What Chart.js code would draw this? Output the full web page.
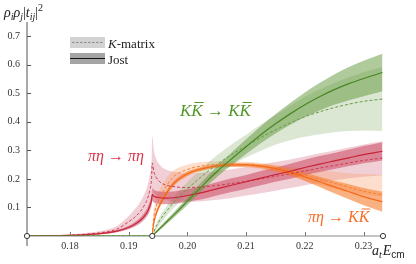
<!DOCTYPE html>
<html>
<head>
<meta charset="utf-8">
<script src="https://cdn.jsdelivr.net/npm/chart.js@4.4.1/dist/chart.umd.min.js"></script>
<style>
  html, body { margin: 0; padding: 0; background: #fff; }
  canvas { display: block; }
</style>
</head>
<body>
<canvas id="tChart" width="416" height="264"></canvas>
<script>
// axis ranges / ticks
const xMin = 0.1727, xMax = 0.2333, threshold = 0.19402;
const yMax = 0.75;
const xTicks = [0.18, 0.19, 0.20, 0.21, 0.22, 0.23];
const yTicks = [0.1, 0.2, 0.3, 0.4, 0.5, 0.6, 0.7];

// pi eta -> pi eta
const redX      = [0.1727, 0.176, 0.18, 0.183, 0.186, 0.188, 0.19, 0.191, 0.192, 0.1927, 0.1932, 0.1936, 0.1939, 0.19402, 0.1943, 0.1947, 0.1953, 0.196, 0.198, 0.2, 0.2025, 0.205, 0.2075, 0.21, 0.2125, 0.215, 0.2175, 0.22, 0.2225, 0.225, 0.2275, 0.23, 0.2332];
const redJost   = [0, .0005, .002, .005, .01, .017, .03, .04, .055, .07, .085, .105, .125, .145, .139, .136, .134, .133, .135, .142, .152, .165, .178, .19, .203, .215, .227, .24, .252, .263, .274, .285, .297];
const redJostHi = [0, .0007, .0028, .0065, .013, .021, .036, .048, .065, .082, .099, .122, .144, .167, .161, .158, .156, .155, .157, .164, .175, .188, .202, .214, .228, .24, .253, .267, .28, .291, .303, .315, .329];
const redJostLo = [0, .0003, .0012, .0035, .007, .013, .024, .032, .045, .058, .071, .088, .106, .123, .117, .114, .112, .111, .113, .12, .129, .142, .154, .166, .178, .19, .201, .213, .224, .235, .245, .255, .265];
const redK       = [0, .0008, .003, .007, .014, .024, .05, .065, .086, .108, .13, .16, .2, .256, .225, .205, .19, .181, .172, .17, .172, .177, .184, .192, .2, .209, .218, .228, .238, .247, .256, .265, .273];
const redKHi     = [0, .0015, .005, .011, .021, .035, .07, .093, .12, .148, .176, .212, .26, .35, .3, .27, .25, .237, .224, .22, .222, .227, .234, .242, .25, .259, .268, .279, .29, .3, .31, .321, .332];
const redKLo     = [0, .0003, .0015, .004, .008, .014, .03, .042, .058, .074, .09, .112, .14, .165, .15, .142, .134, .128, .12, .12, .122, .127, .133, .142, .15, .159, .168, .178, .187, .195, .202, .208, .213];

// pi eta -> K Kbar
const orangeX      = [0.19402, 0.1942, 0.1945, 0.195, 0.196, 0.1975, 0.2, 0.2025, 0.205, 0.2075, 0.21, 0.2125, 0.215, 0.2175, 0.22, 0.2225, 0.225, 0.2275, 0.23, 0.2332];
const orangeJost   = [0, .035, .065, .095, .135, .18, .218, .236, .245, .249, .249, .245, .236, .223, .207, .19, .172, .155, .138, .12];
const orangeJostHi = [0, .04, .072, .103, .144, .189, .226, .243, .251, .255, .255, .252, .245, .234, .221, .208, .194, .181, .168, .155];
const orangeJostLo = [0, .03, .058, .087, .126, .171, .21, .229, .239, .243, .243, .238, .227, .212, .193, .172, .15, .129, .108, .085];
const orangeK      = [0, .05, .09, .12, .16, .205, .233, .246, .251, .252, .25, .245, .237, .226, .213, .199, .185, .171, .157, .144];
const orangeKHi    = [0, .07, .115, .15, .19, .228, .25, .259, .262, .262, .26, .256, .25, .243, .236, .23, .225, .22, .217, .215];
const orangeKLo    = [0, .03, .06, .09, .13, .178, .213, .23, .239, .242, .24, .234, .224, .21, .195, .18, .167, .155, .146, .138];

// K Kbar -> K Kbar
const greenX      = [0.1727, 0.19402, 0.1945, 0.195, 0.196, 0.198, 0.2, 0.2025, 0.205, 0.2075, 0.21, 0.2125, 0.215, 0.2175, 0.22, 0.2225, 0.225, 0.2275, 0.23, 0.2332];
const greenJost   = [0, 0, .01, .02, .04, .08, .122, .175, .225, .27, .313, .355, .393, .428, .46, .488, .513, .534, .552, .573];
const greenJostHi = [0, 0, .013, .025, .047, .09, .135, .191, .244, .292, .339, .385, .427, .466, .503, .536, .566, .592, .614, .639];
const greenJostLo = [0, 0, .007, .015, .033, .07, .109, .159, .206, .248, .287, .325, .359, .39, .417, .44, .46, .476, .49, .507];
const greenK      = [0, 0, .025, .045, .075, .125, .165, .21, .25, .285, .315, .345, .372, .396, .418, .435, .45, .462, .472, .48];
const greenKHi    = [0, 0, .033, .057, .091, .145, .189, .238, .282, .321, .355, .391, .424, .456, .488, .513, .536, .556, .574, .592];
const greenKLo    = [0, 0, .017, .033, .059, .105, .141, .182, .218, .249, .275, .299, .32, .336, .348, .357, .364, .368, .37, .368];

const SERIF = '"Liberation Serif", "DejaVu Serif", serif';
const SANS = '"Liberation Sans", "DejaVu Sans", sans-serif';

function pts(xs, ys) {
  return xs.map((x, i) => ({ x: x, y: ys[i] }));
}

function lineSet(xs, ys, color, dashed) {
  return {
    data: pts(xs, ys),
    borderColor: color,
    borderWidth: dashed ? 1 : 1.2,
    borderDash: dashed ? [3, 2] : [],
    pointRadius: 0,
    fill: false,
    cubicInterpolationMode: 'monotone',
    order: 0
  };
}

// returns two datasets: upper edge filled down to the lower edge
function bandSet(xs, hi, lo, color, order) {
  return [
    { data: pts(xs, hi), borderWidth: 0, pointRadius: 0, fill: '+1', backgroundColor: color, cubicInterpolationMode: 'monotone', order: order },
    { data: pts(xs, lo), borderWidth: 0, pointRadius: 0, fill: false, cubicInterpolationMode: 'monotone', order: order }
  ];
}

const datasets = [
  lineSet(greenX, greenJost, 'rgb(72,135,35)', false),
  lineSet(greenX, greenK, 'rgb(100,155,70)', true),
  lineSet(redX, redJost, 'rgb(200,35,55)', false),
  lineSet(redX, redK, 'rgb(205,60,80)', true),
  lineSet(orangeX, orangeJost, 'rgb(245,105,25)', false),
  lineSet(orangeX, orangeK, 'rgb(245,125,55)', true),
  ...bandSet(greenX, greenJostHi, greenJostLo, 'rgba(95,150,55,0.5)', 1),
  ...bandSet(orangeX, orangeJostHi, orangeJostLo, 'rgba(245,125,45,0.6)', 1),
  ...bandSet(redX, redJostHi, redJostLo, 'rgba(200,60,85,0.5)', 1),
  ...bandSet(greenX, greenKHi, greenKLo, 'rgba(125,170,95,0.28)', 2),
  ...bandSet(orangeX, orangeKHi, orangeKLo, 'rgba(250,160,110,0.35)', 2),
  ...bandSet(redX, redKHi, redKLo, 'rgba(210,95,120,0.3)', 2)
];

// draw a row of text pieces: {t, font, dy, bar}
function drawRuns(ctx, x, y, runs, color) {
  ctx.save();
  ctx.fillStyle = color;
  ctx.strokeStyle = color;
  ctx.textBaseline = 'alphabetic';
  ctx.textAlign = 'left';
  for (const r of runs) {
    ctx.font = r.font;
    const w = ctx.measureText(r.t).width;
    ctx.fillText(r.t, x, y + (r.dy || 0));
    if (r.bar) {
      ctx.lineWidth = 1;
      ctx.beginPath();
      ctx.moveTo(x + 3, y - r.bar);
      ctx.lineTo(x + w + 1, y - r.bar);
      ctx.stroke();
    }
    x += w + (r.gap || 0);
  }
  ctx.restore();
}

const decor = {
  id: 'decor',
  beforeDatasetsDraw(chart) {
    const { ctx, scales: { x, y } } = chart;
    const y0 = y.getPixelForValue(0);
    ctx.save();
    ctx.strokeStyle = '#8a8a8a';
    ctx.lineWidth = 1.2;
    ctx.beginPath();
    ctx.moveTo(x.getPixelForValue(xMin), y0);
    ctx.lineTo(x.getPixelForValue(xMax), y0);
    ctx.stroke();
    ctx.restore();
  },
  afterDatasetsDraw(chart) {
    const { ctx, scales: { x, y } } = chart;
    const y0 = y.getPixelForValue(0);
    const xl = x.getPixelForValue(xMin);
    ctx.save();
    // y axis + inward ticks
    ctx.strokeStyle = '#555';
    ctx.lineWidth = 1;
    ctx.beginPath();
    ctx.moveTo(xl, y.getPixelForValue(yMax));
    ctx.lineTo(xl, y0 + 10);
    for (const v of yTicks) {
      const py = Math.round(y.getPixelForValue(v)) + 0.5;
      ctx.moveTo(xl, py);
      ctx.lineTo(xl + 4, py);
    }
    ctx.stroke();
    ctx.strokeStyle = '#777';
    ctx.beginPath();
    for (const v of xTicks) {
      const px = Math.round(x.getPixelForValue(v)) + 0.5;
      ctx.moveTo(px, y0);
      ctx.lineTo(px, y0 - 4);
    }
    ctx.stroke();
    // open circles on the axis
    ctx.fillStyle = '#fff';
    ctx.strokeStyle = '#333';
    for (const v of [xMin, threshold, xMax]) {
      ctx.beginPath();
      ctx.arc(x.getPixelForValue(v), y0, 2.6, 0, Math.PI * 2);
      ctx.fill();
      ctx.stroke();
    }

    // legend
    ctx.fillStyle = '#d2d2d2';
    ctx.fillRect(70, 37, 35, 11);
    ctx.strokeStyle = '#8c8c8c';
    ctx.setLineDash([2.5, 1.5]);
    ctx.beginPath();
    ctx.moveTo(72, 42.5);
    ctx.lineTo(103, 42.5);
    ctx.stroke();
    ctx.setLineDash([]);
    ctx.fillStyle = '#a4a4a4';
    ctx.fillRect(70, 53, 35, 11);
    ctx.strokeStyle = '#111';
    ctx.beginPath();
    ctx.moveTo(70, 58.5);
    ctx.lineTo(105, 58.5);
    ctx.stroke();
    ctx.restore();

    drawRuns(ctx, 108, 47.5, [{ t: 'K', font: 'italic 13px ' + SERIF }, { t: '-matrix', font: '13px ' + SERIF }], '#222');
    drawRuns(ctx, 108, 63.5, [{ t: 'Jost', font: '13px ' + SERIF }], '#222');

    // axis titles
    const it14 = 'italic 14px ' + SERIF;
    const sub = 'italic 10px ' + SERIF;
    drawRuns(ctx, 4, 17, [
      { t: 'ρ', font: it14 }, { t: 'i', font: sub, dy: 3 },
      { t: 'ρ', font: it14 }, { t: 'j', font: sub, dy: 3 },
      { t: '|', font: '14px ' + SERIF }, { t: 't', font: it14 }, { t: 'ij', font: sub, dy: 3 },
      { t: '|', font: '14px ' + SERIF }, { t: '2', font: '10px ' + SERIF, dy: -6 }
    ], '#222');
    drawRuns(ctx, 372, 255, [
      { t: 'a', font: it14 }, { t: 't', font: sub, dy: 3, gap: 1 },
      { t: 'E', font: it14 }, { t: 'cm', font: '10px ' + SANS, dy: 3 }
    ], '#222');

    // curve labels
    const it16 = 'italic 16px ' + SERIF;
    drawRuns(ctx, 88, 161, [
      { t: 'πη', font: it16 }, { t: ' → ', font: '16px ' + SERIF }, { t: 'πη', font: it16 }
    ], 'rgb(215,55,75)');
    const it17 = 'italic 17px ' + SERIF;
    drawRuns(ctx, 180, 116, [
      { t: 'K', font: it17 }, { t: 'K', font: it17, bar: 13.5 },
      { t: ' → ', font: '17px ' + SERIF },
      { t: 'K', font: it17 }, { t: 'K', font: it17, bar: 13.5 }
    ], 'rgb(80,150,40)');
    drawRuns(ctx, 308, 222, [
      { t: 'πη', font: it16 }, { t: ' → ', font: '16px ' + SERIF },
      { t: 'K', font: it16 }, { t: 'K', font: it16, bar: 13 }
    ], 'rgb(245,110,40)');
  }
};

const ctx = document.getElementById('tChart').getContext('2d');
new Chart(ctx, {
  type: 'line',
  data: { datasets: datasets },
  options: {
    responsive: false,
    animation: false,
    layout: { padding: { top: 22, right: 33, left: 0, bottom: 0 } },
    plugins: {
      legend: { display: false },
      tooltip: { enabled: false }
    },
    scales: {
      x: {
        type: 'linear',
        min: xMin,
        max: xMax,
        afterBuildTicks(s) { s.ticks = xTicks.map(v => ({ value: v })); },
        afterFit(s) { s.height = 28; },
        grid: { display: false, drawTicks: false },
        border: { display: false },
        ticks: {
          autoSkip: false,
          maxRotation: 0,
          padding: 4,
          color: '#333',
          font: { family: SERIF, size: 10 },
          callback: v => v.toFixed(2)
        }
      },
      y: {
        min: 0,
        max: yMax,
        afterBuildTicks(s) { s.ticks = yTicks.map(v => ({ value: v })); },
        afterFit(s) { s.width = 27; },
        grid: { display: false, drawTicks: false },
        border: { display: false },
        ticks: {
          padding: 7,
          color: '#333',
          font: { family: SERIF, size: 10 },
          callback: v => v.toFixed(1)
        }
      }
    }
  },
  plugins: [decor]
});
</script>
</body>
</html>
